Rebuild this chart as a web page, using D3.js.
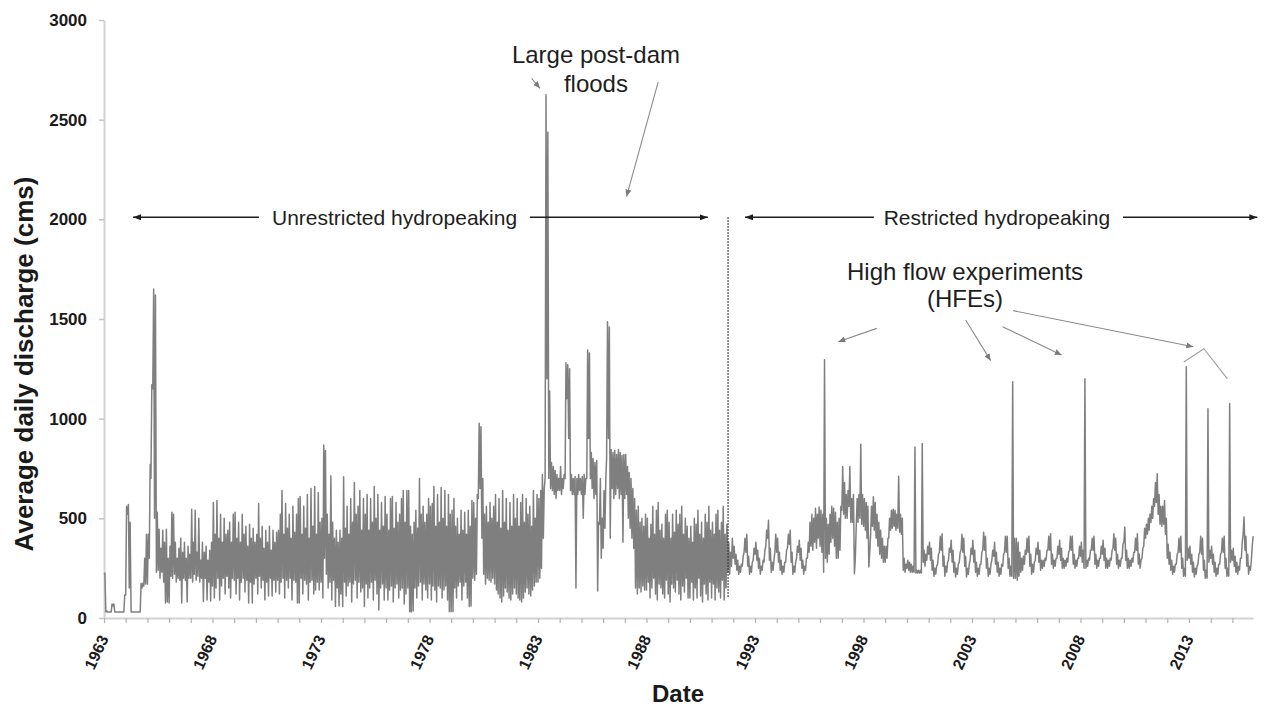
<!DOCTYPE html>
<html><head><meta charset="utf-8">
<script src="https://cdn.jsdelivr.net/npm/d3@7"></script>
<style>
body{margin:0;background:#fff;}
svg{display:block;font-family:"Liberation Sans",Arial,Helvetica,sans-serif;}
</style></head><body>
<svg id="chart" width="1267" height="707"></svg>
<script>
// ---------------- DATA ----------------
const yTickValues = [0, 500, 1000, 1500, 2000, 2500, 3000];
const xTickLabels = [1963, 1968, 1973, 1978, 1983, 1988, 1993, 1998, 2003, 2008, 2013];
const firstYear = 1963;

// monthly low and high of average daily discharge (cms), Jan 1963 - Dec 2015, one row per year
const lowCms = [
220,30,30,30,30,60,30,30,30,30,30,30,
115,520,150,30,30,30,30,30,30,150,160,170,
170,300,700,1150,500,230,240,200,230,180,75,80,
75,210,200,220,180,200,190,75,200,190,80,200,
200,180,220,190,210,180,200,83,200,90,180,85,
160,100,150,200,90,160,200,120,210,150,100,200,
190,120,200,90,180,200,130,190,75,180,75,170,
200,120,210,150,190,90,180,110,200,110,190,130,
190,120,180,200,100,190,150,200,90,190,180,75,
75,200,120,190,170,90,180,190,120,140,180,140,
180,100,300,220,150,180,90,190,58,150,60,120,
58,180,110,160,180,80,170,190,100,180,130,150,
58,170,100,150,180,90,190,120,40,150,170,90,
150,90,140,160,80,150,170,100,140,150,70,120,
150,32,30,35,150,100,160,180,90,170,140,100,
170,90,160,140,80,160,150,100,140,160,90,32,
32,32,150,100,160,180,90,160,180,100,58,60,
200,190,220,600,650,400,220,170,200,190,180,200,
170,140,120,100,80,110,150,130,100,90,120,150,
120,100,90,80,100,130,150,120,110,140,160,180,
180,200,250,400,700,1200,700,650,640,620,600,640,
640,620,650,700,1100,900,640,620,620,150,620,640,
620,500,620,700,900,700,650,600,620,135,470,300,
350,450,800,900,400,650,600,620,650,600,620,380,
600,620,500,450,400,350,150,120,150,130,160,140,
140,180,100,150,200,120,90,170,150,120,100,190,
120,80,170,150,130,190,120,90,160,130,200,100,
100,180,90,150,100,200,110,80,170,120,90,180,
100,170,90,150,130,100,190,90,150,230,220,260,
300,270,240,220,230,260,330,330,260,220,230,290,
320,290,250,220,240,280,360,400,290,230,240,330,
330,280,240,220,230,280,350,370,280,220,230,300,
330,290,250,220,240,300,330,360,340,380,350,400,
360,330,230,300,280,320,380,400,360,300,300,340,
540,520,500,500,560,480,480,222,460,480,500,470,
460,440,400,256,420,460,440,400,360,320,300,280,
280,300,400,440,450,460,440,450,430,420,240,230,
250,240,230,230,230,226,226,226,226,280,260,290,
320,290,240,210,220,270,330,340,260,210,230,290,
330,280,230,206,220,280,340,330,260,206,220,290,
320,280,230,210,220,270,340,340,250,210,220,290,
310,270,230,210,220,260,330,330,250,210,210,200,
200,190,210,230,240,270,320,330,260,220,230,290,
320,280,240,250,260,290,340,340,270,250,260,300,
320,290,250,250,260,280,340,340,270,250,260,300,
310,280,250,250,260,290,340,340,270,250,260,300,
320,290,250,250,260,290,350,340,270,250,260,300,
380,290,250,250,260,280,330,340,270,250,300,360,
400,420,440,480,500,560,580,520,470,460,470,420,
300,270,240,220,230,270,330,330,250,210,210,290,
300,270,230,206,220,270,330,320,240,200,200,280,
300,270,230,210,220,270,330,330,250,210,210,280,
290,260,230,220,240,300,420,340,260,220,240,360
];
const highCms = [
225,35,30,30,70,70,30,30,30,30,30,115,
560,570,480,30,30,30,30,30,174,174,300,420,
420,770,1170,1650,1620,530,445,350,440,380,445,300,
360,530,520,380,300,350,400,330,380,300,360,320,
545,380,540,330,500,290,380,330,360,290,340,380,
580,420,590,400,520,380,500,420,440,480,380,520,
530,400,480,380,520,420,460,360,470,400,450,380,
420,575,400,460,350,440,380,460,340,440,380,430,
440,520,640,420,575,450,520,400,560,430,520,600,
610,420,560,450,620,400,650,460,660,420,630,480,
500,868,840,520,420,713,480,400,440,380,440,400,
708,450,560,420,600,480,680,520,560,640,440,600,
520,620,440,600,480,660,500,620,440,580,460,610,
520,440,600,610,450,580,480,520,600,640,480,640,
640,460,420,480,540,450,700,520,560,480,520,600,
560,575,660,460,620,480,655,500,640,460,620,520,
540,600,460,500,420,540,440,530,420,540,460,590,
580,500,620,977,960,700,520,560,480,580,500,560,
620,480,600,450,640,480,600,440,580,460,620,500,
600,460,580,620,480,600,520,560,460,640,500,620,
600,640,720,650,2625,2437,1139,780,760,740,720,700,
760,700,720,1280,1270,1250,720,700,710,700,720,700,
710,720,700,1345,1330,830,800,780,790,480,700,500,
640,700,1486,1460,845,830,840,820,845,830,815,820,
820,760,730,700,650,600,540,560,480,500,460,520,
500,400,470,560,420,540,580,440,470,400,520,540,
480,400,520,430,540,470,520,560,420,500,460,400,
460,380,500,470,540,420,480,400,520,480,560,440,
480,420,520,540,440,480,560,420,470,380,330,400,
360,320,290,260,270,310,400,420,310,260,280,350,
380,340,300,260,290,340,440,490,350,280,290,420,
400,330,290,260,280,340,420,440,330,260,280,360,
390,350,290,260,300,380,480,520,500,550,520,557,
540,520,1295,500,470,520,560,550,530,480,500,560,
760,680,620,640,760,600,620,300,600,620,872,620,
600,580,560,330,560,608,580,520,480,440,400,360,
360,400,500,540,545,540,520,711,520,500,300,270,
290,280,270,260,858,240,240,240,875,340,320,360,
380,350,290,250,260,320,410,423,310,260,280,350,
390,340,280,250,270,330,420,400,310,250,270,350,
390,340,280,250,270,330,430,410,300,250,270,340,
380,330,280,250,270,320,410,410,300,260,1185,400,
400,380,330,300,310,340,400,410,320,270,280,350,
380,340,290,290,300,340,410,423,320,290,300,360,
390,350,300,290,300,330,410,410,320,290,300,360,
380,340,1200,290,300,340,400,410,320,290,300,360,
390,350,300,290,300,340,423,400,320,290,300,370,
457,340,300,290,300,330,400,423,320,290,350,450,
470,500,520,560,600,680,724,620,560,560,590,500,
370,330,290,260,270,320,400,410,300,250,1260,350,
360,320,280,250,260,320,410,400,290,240,1050,340,
360,320,280,250,270,320,400,410,300,250,1076,340,
350,310,280,260,300,380,507,410,320,260,290,410
];

// annotations (decimal year, cms)
const periodLabels = ["Unrestricted hydropeaking", "Restricted hydropeaking"];
const periodLabelYears = [1976.39, 2004.15];
const periodArrowLevel = 2010;
const periodArrows = [[1970.14, 1964.34], [1982.63, 1990.83], [1998.48, 1992.54], [2009.96, 2016.15]];
const regimeChange = {year: 1991.76, from: 100, to: 2010};
const floodLabel = ["Large post-dam", "floods"];
const floodLabelPos = [1985.67, 2782, 2641];
const floodArrows = [[[1982.71, 2707], [1983.09, 2657]], [[1988.54, 2690], [1987.08, 2114]]];
const hfeLabel = ["High flow experiments", "(HFEs)"];
const hfeLabelPos = [2002.68, 1696, 1560];
const hfeArrows = [
  [[1998.61, 1453], [1996.84, 1386]],
  [[2002.71, 1495], [2003.86, 1291]],
  [[2004.41, 1461], [2007.13, 1319]],
  [[2004.90, 1542], [2013.20, 1361]]
];
const hfeCaret = [[2012.76, 1284], [2013.69, 1351], [2014.77, 1200]];

// ---------------- CHART ----------------
const svg = d3.select("#chart");
const t0 = new Date(firstYear, 0, 1);
const x = d3.scaleTime().domain([t0, new Date(2015, 11, 14)]).range([104, 1253]);
const y = d3.scaleLinear().domain([0, 3000]).range([618, 20]);
const yearToDate = yr => new Date(t0.getTime() + (yr - firstYear) * 365.2425 * 864e5);
const xd = yr => x(yearToDate(yr));

const defs = svg.append("defs");
function marker(id, color, w, h) {
  defs.append("marker").attr("id", id).attr("viewBox", `0 0 ${w} ${h}`)
    .attr("refX", w).attr("refY", h / 2).attr("markerWidth", w).attr("markerHeight", h)
    .attr("markerUnits", "userSpaceOnUse").attr("orient", "auto")
    .append("path").attr("d", `M0,0L${w},${h / 2}L0,${h}Z`).attr("fill", color);
}
marker("arrBlack", "#1e1e1e", 8, 6);
marker("arrGray", "#7a7a7a", 7, 6);

// axes
const yAxis = d3.axisLeft(y).tickValues(yTickValues).tickSize(5).tickSizeOuter(0).tickPadding(12).tickFormat(d3.format("d"));
const gy = svg.append("g").attr("transform", "translate(104,0)").call(yAxis)
  .attr("font-family", null).attr("font-size", null);
gy.select(".domain").attr("stroke", "#d2d2d2").attr("stroke-width", 2);
gy.selectAll(".tick line").attr("stroke", "#c4c4c4").attr("stroke-width", 1.5);
gy.selectAll(".tick text").attr("font-size", 17).attr("font-weight", "bold").attr("fill", "#1a1a1a");

const xAxis = d3.axisBottom(x).ticks(d3.timeYear.every(1)).tickSize(5).tickSizeOuter(0).tickFormat("");
const gx = svg.append("g").attr("transform", "translate(0,618)").call(xAxis);
gx.select(".domain").attr("stroke", "#d2d2d2").attr("stroke-width", 2);
gx.selectAll(".tick line").attr("stroke", "#b4b4b4").attr("stroke-width", 1.2);

svg.append("g").selectAll("text").data(xTickLabels).join("text")
  .attr("transform", d => `translate(${x(new Date(d, 0, 1))},636) rotate(-65)`)
  .attr("text-anchor", "end").attr("dy", "0.35em")
  .attr("font-size", 16).attr("font-weight", "bold").attr("fill", "#1a1a1a")
  .text(d => d);

// axis titles
svg.append("text").attr("transform", "translate(33,364) rotate(-90)")
  .attr("text-anchor", "middle").attr("font-size", 26).attr("font-weight", "bold").attr("fill", "#1a1a1a")
  .text("Average daily discharge (cms)");
svg.append("text").attr("x", 678).attr("y", 702)
  .attr("text-anchor", "middle").attr("font-size", 24).attr("font-weight", "bold").attr("fill", "#1a1a1a")
  .text("Date");

// discharge line
const pts = [];
lowCms.forEach((v, i) => {
  pts.push([new Date(firstYear, i, 1), v]);
  pts.push([new Date(firstYear, i, 16), highCms[i]]);
});
svg.append("path").datum(pts)
  .attr("d", d3.line().x(d => x(d[0])).y(d => y(d[1])))
  .attr("fill", "none").attr("stroke", "#7f7f7f").attr("stroke-width", 1.5)
  .attr("stroke-linejoin", "round");

// regime change dotted line
svg.append("line")
  .attr("x1", xd(regimeChange.year)).attr("x2", xd(regimeChange.year))
  .attr("y1", y(regimeChange.to)).attr("y2", y(regimeChange.from))
  .attr("stroke", "#333").attr("stroke-width", 1.4).attr("stroke-dasharray", "1.5,1.5");

// period arrows and labels
svg.append("g").selectAll("line").data(periodArrows).join("line")
  .attr("x1", d => xd(d[0])).attr("x2", d => xd(d[1]))
  .attr("y1", y(periodArrowLevel)).attr("y2", y(periodArrowLevel))
  .attr("stroke", "#1e1e1e").attr("stroke-width", 1.5).attr("marker-end", "url(#arrBlack)");
svg.append("g").selectAll("text").data(periodLabels).join("text")
  .attr("x", (d, i) => xd(periodLabelYears[i])).attr("y", y(periodArrowLevel) + 7.5)
  .attr("text-anchor", "middle").attr("font-size", 21).attr("fill", "#1e1e1e")
  .text(d => d);

// flood annotation
svg.append("g").selectAll("text").data(floodLabel).join("text")
  .attr("x", xd(floodLabelPos[0])).attr("y", (d, i) => y(floodLabelPos[i + 1]))
  .attr("text-anchor", "middle").attr("font-size", 24).attr("fill", "#1e1e1e")
  .text(d => d);
svg.append("g").selectAll("line").data(floodArrows).join("line")
  .attr("x1", d => xd(d[0][0])).attr("y1", d => y(d[0][1]))
  .attr("x2", d => xd(d[1][0])).attr("y2", d => y(d[1][1]))
  .attr("stroke", "#8a8a8a").attr("stroke-width", 1.1).attr("marker-end", "url(#arrGray)");

// HFE annotation
svg.append("g").selectAll("text").data(hfeLabel).join("text")
  .attr("x", xd(hfeLabelPos[0])).attr("y", (d, i) => y(hfeLabelPos[i + 1]))
  .attr("text-anchor", "middle").attr("font-size", 24).attr("fill", "#1e1e1e")
  .text(d => d);
svg.append("g").selectAll("line").data(hfeArrows).join("line")
  .attr("x1", d => xd(d[0][0])).attr("y1", d => y(d[0][1]))
  .attr("x2", d => xd(d[1][0])).attr("y2", d => y(d[1][1]))
  .attr("stroke", "#8a8a8a").attr("stroke-width", 1.1).attr("marker-end", "url(#arrGray)");
svg.append("path").datum(hfeCaret)
  .attr("d", d3.line().x(d => xd(d[0])).y(d => y(d[1])))
  .attr("fill", "none").attr("stroke", "#a0a0a0").attr("stroke-width", 1.1);
</script>
</body></html>
